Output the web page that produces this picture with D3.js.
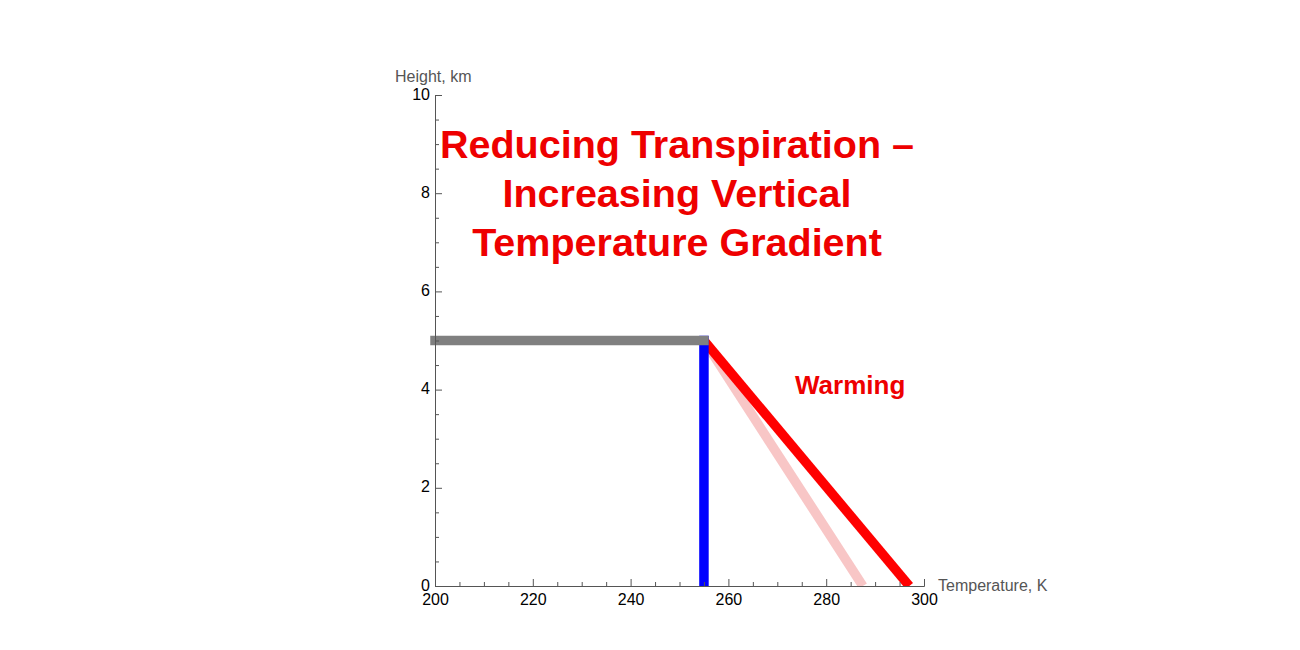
<!DOCTYPE html>
<html>
<head>
<meta charset="utf-8">
<script src="https://cdn.jsdelivr.net/npm/d3@7"></script>
<style>
  body { margin: 0; background: #fff; }
  svg { display: block; font-family: "Liberation Sans", Arial, sans-serif; }
</style>
</head>
<body>
<div id="chart"></div>
<script>
// ticks
const xMajor = [200, 220, 240, 260, 280, 300];
const xMinor = [205, 210, 215, 225, 230, 235, 245, 250, 255, 265, 270, 275, 285, 290, 295];
const yMajor = [0, 2, 4, 6, 8, 10];
const yMinor = [0.5, 1, 1.5, 2.5, 3, 3.5, 4.5, 5, 5.5, 6.5, 7, 7.5, 8.5, 9, 9.5];

// series (temperature K, height km)
const grayT = [200, 255], grayH = [5, 5];
const blueT = [255, 255], blueH = [0, 5];
const pinkT = [255, 287.5], pinkH = [5, 0];
const redT = [255, 297], redH = [5, 0];

const titleLines = ["Reducing Transpiration \u2013", "Increasing Vertical", "Temperature Gradient"];

let width = 1300, height = 650;
let svg = d3.select("#chart").append("svg")
    .attr("width", width)
    .attr("height", height);

// set the ranges
let x = d3.scaleLinear().domain([200, 300]).range([435, 924]);
let y = d3.scaleLinear().domain([0, 10]).range([586, 95]);

svg.append("defs").append("clipPath").attr("id", "clip")
    .append("rect")
    .attr("x", 0).attr("y", 0)
    .attr("width", width).attr("height", y(0));

let line = d3.line().x((d) => x(d[0])).y((d) => y(d[1]));
let plot = svg.append("g").attr("clip-path", "url(#clip)");

function addLine(ts, hs, color, cap) {
    plot.append("path")
        .datum(ts.map((t, i) => [t, hs[i]]))
        .attr("d", line)
        .attr("fill", "none")
        .attr("stroke", color)
        .attr("stroke-width", 9.5)
        .attr("stroke-linecap", cap);
}
addLine(pinkT, pinkH, "#f8c6c6", "butt");
addLine(redT, redH, "#ff0000", "butt");
addLine(blueT, blueH, "#0000ff", "square");
addLine(grayT, grayH, "#808080", "square");

// axes
const axisColor = "#555";
function styleAxis(g) {
    g.select(".domain").attr("stroke", axisColor);
    g.selectAll(".tick line").attr("stroke", axisColor);
    g.selectAll(".tick text").attr("fill", "#000").attr("font-size", 16)
        .attr("font-family", "Liberation Sans, Arial, sans-serif");
}

svg.append("g")
    .attr("transform", "translate(0," + y(0) + ")")
    .call(d3.axisBottom(x).tickValues(xMinor).tickSize(-4).tickFormat("").tickSizeOuter(0))
    .call(styleAxis);
svg.append("g")
    .attr("transform", "translate(0," + y(0) + ")")
    .call(d3.axisBottom(x).tickValues(xMajor).tickSize(-7).tickPadding(5).tickSizeOuter(0))
    .call(styleAxis)
    .call((g) => g.selectAll(".tick text").attr("dy", "0.9em"));

svg.append("g")
    .attr("transform", "translate(" + x(200) + ",0)")
    .call(d3.axisLeft(y).tickValues(yMinor).tickSize(-4).tickFormat("").tickSizeOuter(0))
    .call(styleAxis);
svg.append("g")
    .attr("transform", "translate(" + x(200) + ",0)")
    .call(d3.axisLeft(y).tickValues(yMajor).tickSize(-7).tickPadding(5).tickSizeOuter(0))
    .call(styleAxis)
    .call((g) => g.selectAll(".tick text").attr("dy", "0.25em"));

// axis labels
svg.append("text")
    .attr("x", 395).attr("y", 82)
    .attr("font-size", 16).attr("fill", axisColor)
    .text("Height, km");
svg.append("text")
    .attr("x", 938).attr("y", 591)
    .attr("font-size", 16).attr("fill", axisColor)
    .text("Temperature, K");

// title
svg.append("text")
    .attr("text-anchor", "middle")
    .attr("font-size", 39.5).attr("font-weight", "bold").attr("fill", "#ee0000")
    .selectAll("tspan")
    .data(titleLines)
    .enter().append("tspan")
    .attr("x", 677)
    .attr("y", (d, i) => 158 + i * 49)
    .text((d) => d);

svg.append("text")
    .attr("x", 795).attr("y", 394)
    .attr("font-size", 26).attr("font-weight", "bold").attr("fill", "#ee0000")
    .text("Warming");
</script>
</body>
</html>
